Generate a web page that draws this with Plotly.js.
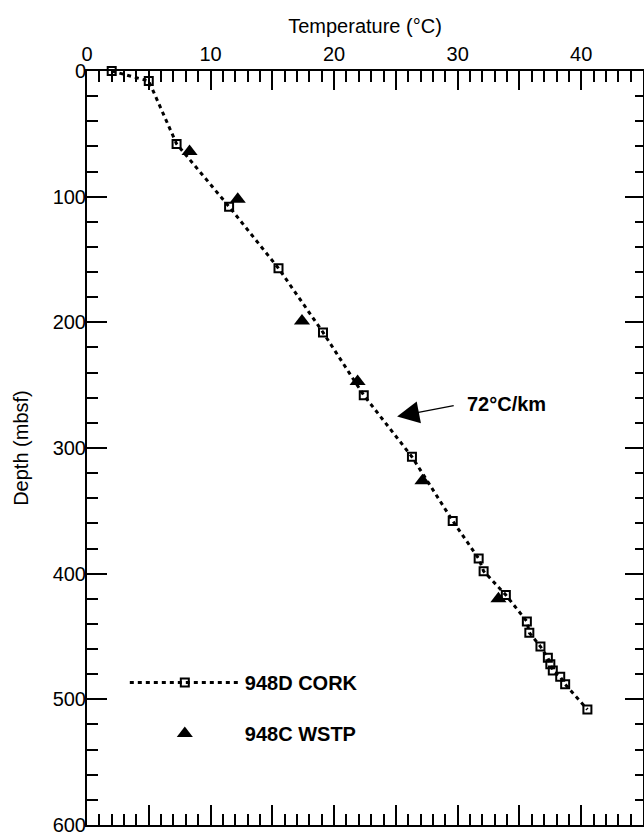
<!DOCTYPE html>
<html>
<head>
<meta charset="utf-8">
<script src="https://cdn.plot.ly/plotly-3.0.1.min.js"></script>
<style>html,body{margin:0;padding:0;background:#fff;}#chart{width:644px;height:835px;}</style>
</head>
<body>
<div id="chart"></div>
<script>
// 948D CORK temperatures (°C) and depths (mbsf)
const corkTemp  = [2.0, 5.0, 7.25, 11.5, 15.5, 19.1, 22.4, 26.3, 29.6, 31.7, 32.1, 33.9, 35.6, 35.8, 36.7, 37.3, 37.5, 37.7, 38.3, 38.7, 40.5];
const corkDepth = [0,   8,   58,   108,  157,  208,  258,  307,  358,  388,  398,  417,  438,  447,  458,  467,  472,  477,  482,  488,  508];
// 948C WSTP temperatures (°C) and depths (mbsf)
const wstpTemp  = [8.3, 12.2, 17.4, 21.9, 27.15, 33.3];
const wstpDepth = [64,  102,  199,  247,  326,   420];
// Gradient annotation
const gradLabel = '72°C/km';
const arrowTip  = {t: 25.1, d: 275};
const arrowTail = {t: 29.8, d: 266};
const labelPos  = {t: 30.6, d: 265};
// Axis ticks and titles
const xTickVals = [0,5,10,15,20,25,30,35,40,45];
const xTickText = ['0','','10','','20','','30','','40',''];
const yTickVals = [0,100,200,300,400,500,600];
const xTitle = 'Temperature (°C)';
const yTitle = 'Depth (mbsf)';

const FONT = 'Liberation Sans, Arial, Helvetica, sans-serif';

const traces = [
  {
    x: corkTemp, y: corkDepth, name: '948D CORK', type: 'scatter', mode: 'lines+markers',
    legendgroup: 'cork',
    line: {color: '#000', width: 3, dash: '4px,4px'},
    marker: {symbol: 'square-open', size: 8, color: '#000', line: {width: 2, color: '#000'}},
    cliponaxis: false
  },
  {
    x: wstpTemp, y: wstpDepth, name: '948C WSTP', type: 'scatter', mode: 'markers',
    legendgroup: 'wstp',
    marker: {symbol: 'triangle-up', size: 14, color: '#000'},
    cliponaxis: false
  },
  {
    x: [], y: [], xaxis: 'x2', yaxis: 'y2', showlegend: false, type: 'scatter', hoverinfo: 'skip'
  }
];

const axisCommon = {
  showgrid: false, zeroline: false, showline: true, linecolor: '#000', linewidth: 2,
  ticks: 'inside', tickcolor: '#000', tickwidth: 2, ticklabeloverflow: 'allow',
  tickfont: {family: FONT, size: 20, color: '#000'}
};

const layout = {
  width: 644, height: 835,
  margin: {l: 87, r: 1, t: 71, b: 10, pad: 0},
  paper_bgcolor: '#fff', plot_bgcolor: '#fff',
  font: {family: FONT, color: '#000'},
  showlegend: true,
  legend: {
    x: 0.068, y: 0.215, xanchor: 'left', yanchor: 'top',
    bgcolor: 'rgba(0,0,0,0)', borderwidth: 0,
    font: {family: FONT, size: 20, color: '#000', weight: 'bold'},
    itemwidth: 110, tracegroupgap: 22
  },
  xaxis: Object.assign({}, axisCommon, {
    range: [0, 45], side: 'top', tickmode: 'array', tickvals: xTickVals, ticktext: xTickText,
    ticklen: 19,
    minor: {tickmode: 'linear', tick0: 0, dtick: 1, ticklen: 11, ticks: 'inside', tickwidth: 2, tickcolor: '#000'},
    title: {text: xTitle, font: {family: FONT, size: 20, color: '#000'}, standoff: 4}
  }),
  xaxis2: Object.assign({}, axisCommon, {
    range: [0, 45], side: 'bottom', overlaying: 'x', anchor: 'y2',
    tickmode: 'array', tickvals: xTickVals, showticklabels: false, ticklen: 20,
    minor: {tickmode: 'linear', tick0: 0, dtick: 1, ticklen: 11, ticks: 'inside', tickwidth: 2, tickcolor: '#000'}
  }),
  yaxis: Object.assign({}, axisCommon, {
    range: [600, 0], tickmode: 'array', tickvals: yTickVals, ticklen: 20,
    ticklabelstandoff: -5,
    minor: {tickmode: 'linear', tick0: 0, dtick: 20, ticklen: 11, ticks: 'inside', tickwidth: 2, tickcolor: '#000'}
  }),
  yaxis2: Object.assign({}, axisCommon, {
    range: [600, 0], side: 'right', overlaying: 'y', anchor: 'x2',
    tickmode: 'array', tickvals: yTickVals, showticklabels: false, ticklen: 18,
    minor: {tickmode: 'linear', tick0: 0, dtick: 20, ticklen: 8, ticks: 'inside', tickwidth: 2, tickcolor: '#000'}
  }),
  annotations: [
    {
      x: arrowTip.t, y: arrowTip.d, xref: 'x', yref: 'y',
      ax: arrowTail.t, ay: arrowTail.d, axref: 'x', ayref: 'y',
      text: '', showarrow: true, arrowhead: 2, arrowsize: 3.4, arrowwidth: 1.3, arrowcolor: '#000'
    },
    {
      x: labelPos.t, y: labelPos.d, xref: 'x', yref: 'y', xanchor: 'left', yanchor: 'middle',
      text: '<b>' + gradLabel + '</b>', showarrow: false,
      font: {family: FONT, size: 20, color: '#000'}
    },
    {
      x: -0.119, y: 0.5, xref: 'paper', yref: 'paper', xanchor: 'center', yanchor: 'middle',
      text: yTitle, textangle: -90, showarrow: false,
      font: {family: FONT, size: 20, color: '#000'}
    }
  ]
};

Plotly.newPlot('chart', traces, layout, {staticPlot: true, displayModeBar: false});
</script>
</body>
</html>
